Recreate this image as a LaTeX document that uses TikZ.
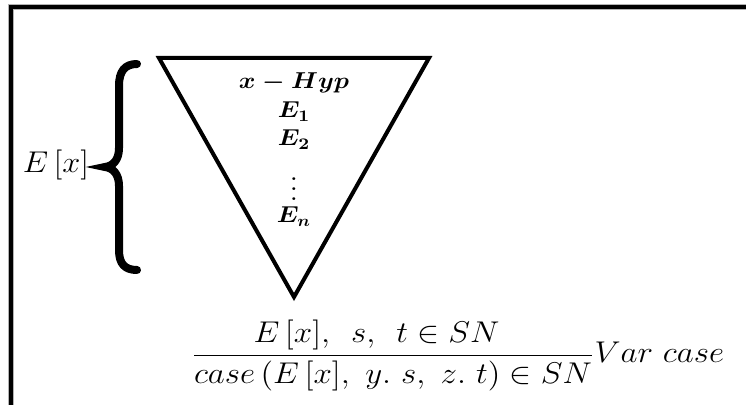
\RequirePackage{fix-cm}
\documentclass[tikz,border=0pt]{standalone}
\usepackage{amsmath}
\tikzset{
  bigmath/.style={font=\fontsize{15}{18}\selectfont, inner sep=0pt, xscale=1.1},
  tritext/.style={font=\fontsize{11.5}{13}\selectfont\boldmath, inner sep=0pt, anchor=base, xscale=1.1},
}
\begin{document}
\begin{tikzpicture}[x=0.5pt, y=-0.5pt]
  \useasboundingbox (0,0) rectangle (746,405);
  % frame (cut at right and bottom)
  \draw[line width=3pt, gray!60] (11,7) rectangle (770,430);
  \draw[line width=2pt] (11,7) rectangle (770,430);
  % triangle
  \coordinate (tl) at (159,58);
  \coordinate (tr) at (429,58);
  \coordinate (tip) at (294,297);
  \draw[line width=2pt, line join=miter] (tl) -- (tr) -- (tip) -- cycle;
  \node[tritext] (hyp) at (294,89) {$x - Hyp$};
  \node[tritext] (e1) at (294,118) {$E_1$};
  \node[tritext] (e2) at (294,146) {$E_2$};
  \node[tritext, anchor=center, scale=1.25] (dots) at (294,182) {$\vdots$};
  \node[tritext] (en) at (294,223) {$E_n$};
  % brace
  \draw[line width=4pt, line cap=round]
    (137,64) .. controls (125,64) and (119,71) .. (119,86) -- (119,148)
    .. controls (119,160) and (113,166) .. (105,167)
    .. controls (113,168) and (119,174) .. (119,186) -- (119,250)
    .. controls (119,264) and (125,270) .. (137,270);
  \node[bigmath, xscale=0.98, anchor=base] (ex) at (56,173) {$E\,[x]$};
  % rule
  \node[bigmath, anchor=base west] (rule) at (191,363)
    {$\dfrac{E\,[x],\ \,s,\ \,t\in SN\quad}{case\left(E\,[x],\ y.\ s,\ z.\ t\right)\in SN}Var\ case$};
\end{tikzpicture}
\end{document}
